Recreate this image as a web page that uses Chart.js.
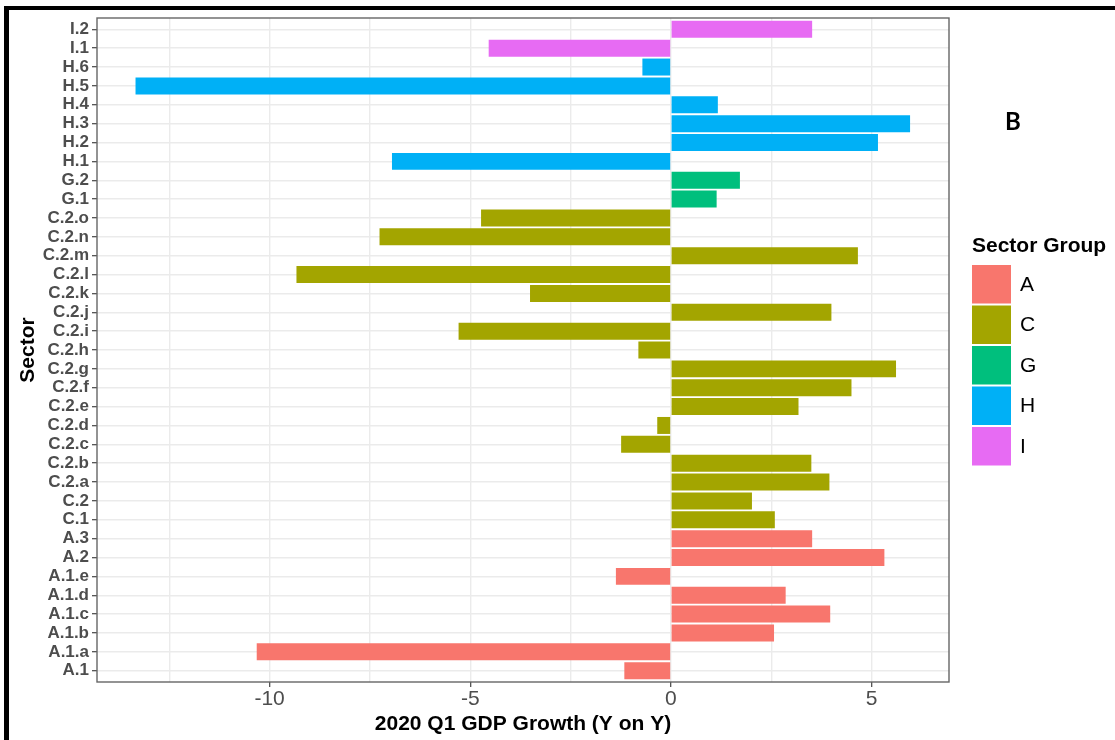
<!DOCTYPE html>
<html><head><meta charset="utf-8">
<script src="https://cdn.jsdelivr.net/npm/chart.js@4.4.0/dist/chart.umd.min.js"></script>
<style>
html,body{margin:0;padding:0;background:#fff;}
#wrap{position:relative;width:1115px;height:740px;overflow:hidden;}
canvas{position:absolute;left:0;top:0;}
.frameTop{position:absolute;left:4px;top:6px;width:1111px;height:4px;background:#000;}
.frameLeft{position:absolute;left:4px;top:6px;width:5px;height:734px;background:#000;}
</style></head><body>
<div id="wrap"><canvas id="c" width="1115" height="740"></canvas><div class="frameTop"></div><div class="frameLeft"></div></div>
<script>
// ---- data (bottom to top) ----
const sectors = ['A.1','A.1.a','A.1.b','A.1.c','A.1.d','A.1.e','A.2','A.3','C.1','C.2',
  'C.2.a','C.2.b','C.2.c','C.2.d','C.2.e','C.2.f','C.2.g','C.2.h','C.2.i','C.2.j',
  'C.2.k','C.2.l','C.2.m','C.2.n','C.2.o','G.1','G.2','H.1','H.2','H.3','H.4','H.5','H.6','I.1','I.2'];
const growth = [-1.16,-10.32,2.57,3.97,2.86,-1.37,5.32,3.52,2.59,2.02,
  3.95,3.50,-1.24,-0.34,3.18,4.50,5.61,-0.81,-5.29,4.00,
  -3.51,-9.33,4.66,-7.26,-4.73,1.14,1.72,-6.95,5.16,5.96,1.17,-13.34,-0.71,-4.54,3.52];
const sectorGroup = ['A','A','A','A','A','A','A','A','C','C',
  'C','C','C','C','C','C','C','C','C','C',
  'C','C','C','C','C','G','G','H','H','H','H','H','H','I','I'];
const groupNames = ['A','C','G','H','I'];
const xTickValues = [-12.5,-10,-7.5,-5,-2.5,0,2.5,5];
const xLabelledTicks = [-10,-5,0,5];
const xRange = [-14.3, 6.93];

// ---- styles ----
const groupColors = {A:'#F8766D', C:'#A3A500', G:'#00BF7D', H:'#00B0F6', I:'#E76BF3'};
const FONT = '"Liberation Sans", Arial, sans-serif';

const ggPlugin = {
  id: 'gg',
  beforeDraw(chart) {
    const ctx = chart.ctx;
    ctx.save(); ctx.fillStyle = '#fff'; ctx.fillRect(0, 0, chart.width, chart.height); ctx.restore();
  },
  afterDatasetsDraw(chart) {
    const a = chart.chartArea, ctx = chart.ctx;
    ctx.save();
    ctx.strokeStyle = '#666'; ctx.lineWidth = 1.4;
    ctx.strokeRect(a.left, a.top, a.right - a.left, a.bottom - a.top);
    ctx.restore();
  },
  afterDraw(chart) {
    const ctx = chart.ctx;
    ctx.save();
    ctx.textBaseline = 'middle'; ctx.textAlign = 'left';
    ctx.fillStyle = '#000';
    ctx.font = 'bold 21px ' + FONT;
    ctx.fillText('Sector Group', 972, 246);
    groupNames.forEach((g, i) => {
      const y = 265 + i * 40.5;
      ctx.fillStyle = groupColors[g];
      ctx.fillRect(972, y, 39, 38.5);
      ctx.fillStyle = '#000';
      ctx.font = '21px ' + FONT;
      ctx.fillText(g, 1020, y + 20);
    });
    ctx.font = 'bold 24px Lato, "Open Sans", sans-serif';
    ctx.textAlign = 'center';
    ctx.fillText('B', 1013, 122);
    ctx.restore();
  }
};

new Chart(document.getElementById('c'), {
  type: 'bar',
  data: {
    datasets: [{
      data: growth.map((v, i) => ({x: v, y: i})),
      backgroundColor: sectorGroup.map(g => groupColors[g]),
      borderWidth: 0,
      barPercentage: 0.9,
      categoryPercentage: 1.0
    }]
  },
  options: {
    indexAxis: 'y',
    responsive: false,
    animation: false,
    layout: {padding: {left: 0, right: 166, top: 18, bottom: 0}},
    plugins: {legend: {display: false}, tooltip: {enabled: false}},
    scales: {
      x: {
        type: 'linear', position: 'bottom',
        min: xRange[0], max: xRange[1],
        afterBuildTicks: s => { s.ticks = xTickValues.map(v => ({value: v})); },
        afterFit: s => { s.height = 58; },
        ticks: {
          autoSkip: false, maxRotation: 0, padding: 0,
          color: '#4d4d4d', font: {family: FONT, size: 21},
          callback: v => xLabelledTicks.includes(v) ? String(v) : ''
        },
        grid: {
          color: '#ebebeb', lineWidth: 1.4, tickLength: 5,
          tickColor: c => (c.tick && xLabelledTicks.includes(c.tick.value)) ? '#444' : 'rgba(0,0,0,0)',
          tickWidth: 1.2
        },
        border: {display: false},
        title: {display: true, text: '2020 Q1 GDP Growth (Y on Y)', color: '#000',
          font: {family: FONT, size: 21, weight: 'bold'}, padding: {top: 0, bottom: 3}}
      },
      y: {
        type: 'linear', position: 'left', offset: false,
        min: -0.6, max: sectors.length - 0.4,
        afterBuildTicks: s => { s.ticks = sectors.map((_, i) => ({value: i})); },
        afterFit: s => { s.width = 97; },
        ticks: {
          autoSkip: false, padding: 3,
          color: '#4d4d4d', font: {family: FONT, size: 17, weight: 'bold'},
          callback: v => sectors[v]
        },
        grid: {color: '#ebebeb', lineWidth: 1.4, tickLength: 5, tickColor: '#444', tickWidth: 1.2, offset: false},
        border: {display: false},
        title: {display: true, text: 'Sector', color: '#000',
          font: {family: FONT, size: 21, weight: 'bold'}, padding: {top: 16, bottom: 0}}
      }
    }
  },
  plugins: [ggPlugin]
});
</script>
</body></html>
